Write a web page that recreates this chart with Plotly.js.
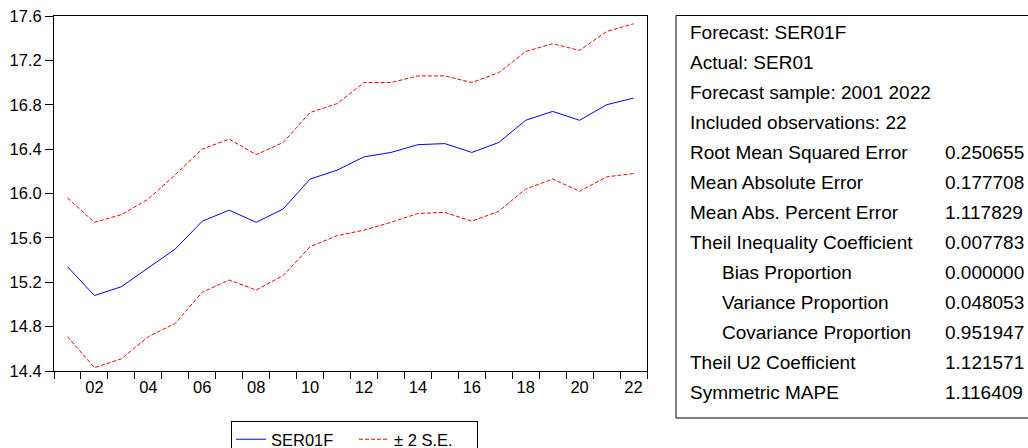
<!DOCTYPE html>
<html>
<head>
<meta charset="utf-8">
<script src="https://cdn.plot.ly/plotly-3.0.1.min.js"></script>
<style>
  html, body { margin: 0; padding: 0; background: #fff; }
  #chart { width: 1028px; height: 448px; }
</style>
</head>
<body>
<div id="chart"></div>
<script>
const years = [2001,2002,2003,2004,2005,2006,2007,2008,2009,2010,2011,2012,2013,2014,2015,2016,2017,2018,2019,2020,2021,2022];
const ser01f = [15.34,15.08,15.16,15.33,15.50,15.75,15.85,15.74,15.86,16.13,16.21,16.33,16.37,16.44,16.45,16.37,16.46,16.66,16.74,16.66,16.80,16.86];
const upperSE = [15.96,15.74,15.81,15.95,16.17,16.40,16.49,16.35,16.46,16.73,16.81,17.00,17.00,17.06,17.06,17.00,17.09,17.28,17.35,17.29,17.46,17.53];
const lowerSE = [14.71,14.43,14.51,14.71,14.83,15.11,15.22,15.13,15.26,15.52,15.62,15.67,15.74,15.82,15.83,15.75,15.84,16.04,16.13,16.02,16.15,16.18];
const yTicks = [14.4,14.8,15.2,15.6,16.0,16.4,16.8,17.2,17.6];
const xTickYears = [2002,2004,2006,2008,2010,2012,2014,2016,2018,2020,2022];
const xTickLabels = ['02','04','06','08','10','12','14','16','18','20','22'];
const statLabels = ['Forecast: SER01F','Actual: SER01','Forecast sample: 2001 2022','Included observations: 22','Root Mean Squared Error','Mean Absolute Error','Mean Abs. Percent Error','Theil Inequality Coefficient','Bias Proportion','Variance Proportion','Covariance Proportion','Theil U2 Coefficient','Symmetric MAPE'];
const statValues = ['','','','','0.250655','0.177708','1.117829','0.007783','0.000000','0.048053','0.951947','1.121571','1.116409'];
const statIndent = [false,false,false,false,false,false,false,false,true,true,true,false,false];

const FONT = 'Liberation Sans, Arial, sans-serif';
const W = 1028, H = 448;
const M = {l: 54, r: 381, t: 16, b: 77};
const PW = W - M.l - M.r, PH = H - M.t - M.b;
const px2x = px => (px - M.l) / PW;
const py2y = py => (H - M.b - py) / PH;

const boundaries = [years[0] - 0.5].concat(years.map(y => y + 0.5));

const traces = [
  {x: years, y: ser01f, type: 'scatter', mode: 'lines', name: 'SER01F',
   line: {color: '#0000FF', width: 1}},
  {x: years, y: upperSE, type: 'scatter', mode: 'lines', name: '\u00B1 2 S.E.', legendgroup: 'se',
   line: {color: '#FF0000', width: 1, dash: '4px,2px'}},
  {x: years, y: lowerSE, type: 'scatter', mode: 'lines', name: '\u00B1 2 S.E.', legendgroup: 'se', showlegend: false,
   line: {color: '#FF0000', width: 1, dash: '4px,2px'}}
];

const annotations = [];
const rowY0 = 32.5, rowDY = 30;
statLabels.forEach((lab, i) => {
  const py = rowY0 + rowDY * i;
  annotations.push({xref: 'paper', yref: 'paper', x: px2x(statIndent[i] ? 720 : 688), y: py2y(py),
    xanchor: 'left', yanchor: 'middle', text: lab, showarrow: false,
    font: {family: FONT, size: 19, color: '#000'}});
  if (statValues[i]) {
    annotations.push({xref: 'paper', yref: 'paper', x: px2x(943), y: py2y(py),
      xanchor: 'left', yanchor: 'middle', text: statValues[i], showarrow: false,
      font: {family: FONT, size: 19, color: '#000'}});
  }
});

const layout = {
  width: W, height: H,
  margin: M,
  paper_bgcolor: '#fff', plot_bgcolor: '#fff',
  font: {family: FONT, size: 16.5, color: '#000'},
  showlegend: true,
  legend: {orientation: 'h', xref: 'container', yref: 'container',
    x: 231 / W, y: (H - 421) / H, xanchor: 'left', yanchor: 'top',
    bordercolor: '#000', borderwidth: 1, bgcolor: '#fff',
    font: {family: FONT, size: 16.5, color: '#000'}, itemwidth: 30, entrywidth: 78},
  xaxis: {range: [years[0] - 0.5, years[years.length - 1] + 0.5], showgrid: false, zeroline: false,
    showline: true, linecolor: '#000', linewidth: 1, mirror: true,
    tickmode: 'array', tickvals: xTickYears, ticktext: xTickLabels,
    ticks: 'outside', ticklen: 1, tickcolor: 'rgba(0,0,0,0)',
    tickfont: {family: FONT, size: 16.5, color: '#000'},
    minor: {tickmode: 'array', tickvals: boundaries, ticks: 'outside', ticklen: 7, tickcolor: '#000', tickwidth: 1, showgrid: false}},
  yaxis: {range: [yTicks[0], yTicks[yTicks.length - 1]], showgrid: false, zeroline: false,
    showline: true, linecolor: '#000', linewidth: 1, mirror: true,
    tickmode: 'array', tickvals: yTicks, ticktext: yTicks.map(v => v.toFixed(1)),
    ticks: 'outside', ticklen: 8, tickcolor: '#000',
    tickfont: {family: FONT, size: 16.5, color: '#000'}},
  shapes: [
    {type: 'rect', xref: 'paper', yref: 'paper', x0: px2x(676), x1: px2x(1035), y0: py2y(418), y1: py2y(15.5),
     line: {color: '#000', width: 1}, fillcolor: 'rgba(0,0,0,0)'}
  ],
  annotations: annotations
};

Plotly.newPlot('chart', traces, layout, {staticPlot: true, displayModeBar: false});
</script>
</body>
</html>
